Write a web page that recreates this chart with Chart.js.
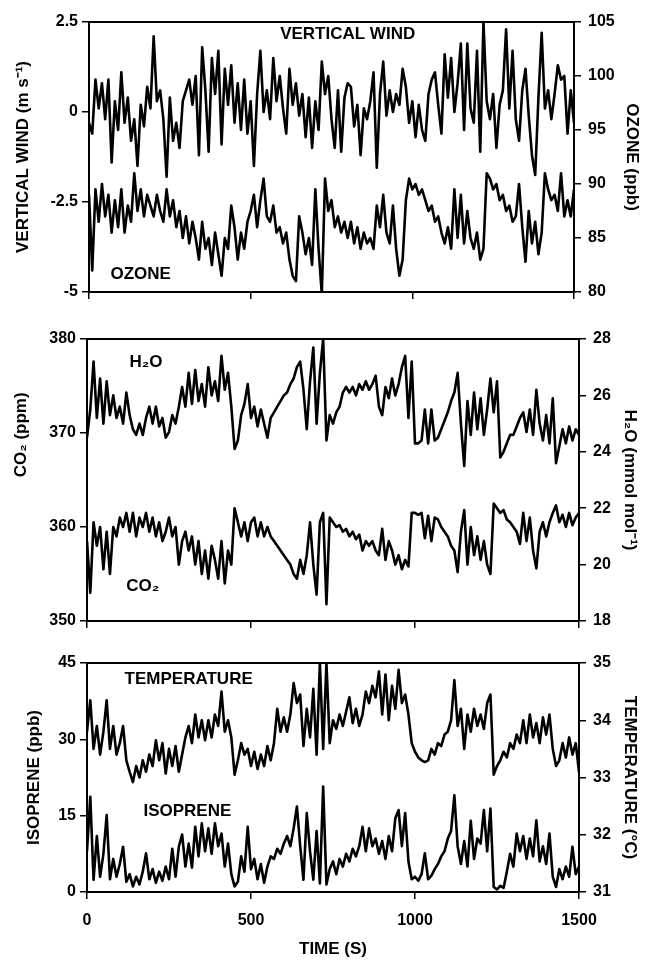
<!DOCTYPE html>
<html>
<head>
<meta charset="utf-8">
<script src="https://cdn.jsdelivr.net/npm/chart.js@4.4.1/dist/chart.umd.min.js"></script>
<style>
  body { margin: 0; background: #fff; }
  #wrap { position: relative; width: 648px; height: 962px; }
  #wrap canvas { position: absolute; left: 0; }
</style>
</head>
<body>
<div id="wrap">
  <canvas id="windChart" width="648" height="310" style="top:0px"></canvas>
  <canvas id="gasChart" width="648" height="330" style="top:310px"></canvas>
  <canvas id="tempChart" width="648" height="322" style="top:640px"></canvas>
</div>
<script>
// tick values for every axis
const timeTicks = [0, 500, 1000, 1500];
const windTicks = [-5, -2.5, 0, 2.5];
const ozoneTicks = [80, 85, 90, 95, 100, 105];
const co2Ticks = [350, 360, 370, 380];
const h2oTicks = [18, 20, 22, 24, 26, 28];
const isopreneTicks = [0, 15, 30, 45];
const tempTicks = [31, 32, 33, 34, 35];

// one value every 10 s (0 .. 1500 s)
const STEP = 10;

const wind = [
  -0.3, -0.6, 0.9, 0.1, 0.8, -0.2, 0.9, -1.4, 0.3, -0.5,
  1.1, -0.3, 0.4, -0.8, -0.2, -1.5, 0.2, -0.4, 0.7, 0.1,
  2.1, 0.3, 0.6, -0.2, -1.8, 0.4, -0.8, -0.3, -1.0, 0.3,
  0.6, 0.9, 0.2, 1.0, -1.2, 1.8, 0.6, -1.1, 1.5, 0.5,
  1.7, -0.9, 1.2, 0.2, 1.3, -0.3, 0.8, -0.5, 0.9, -0.6,
  0.3, -1.5, 0.5, 1.7, 0.0, 0.6, -0.2, 1.5, 0.3, 1.0,
  0.1, -0.6, 1.2, 0.2, 0.8, -0.1, 0.5, -0.7, 0.4, -1.0,
  0.3, -0.5, 1.4, 0.5, 1.0, -0.2, -1.0, 0.6, -1.1, 0.4,
  0.8, 0.7, -0.4, 0.2, -1.2, 0.1, -0.2, 0.3, 1.1, -1.55,
  0.5, 1.4, -0.1, 0.6, 0.0, 0.5, 0.2, 1.2, 0.7, -0.3,
  0.3, -0.7, 0.2, -0.5, -0.8, 0.5, 0.9, 1.1, 0.2, -0.6,
  1.6, 0.4, 1.5, 0.0, 0.8, 1.9, -0.5, 1.9, 0.1, -0.3,
  1.7, -1.1, 2.5, 0.3, -0.2, 0.5, -1.0, 0.2, 0.6, 2.3,
  0.1, 1.7, -0.2, -0.8, 0.6, 1.2, -0.1, -1.2, -1.75, 0.4,
  2.2, 0.1, 0.6, -0.2, 0.5, 1.3, 0.9, 1.0, -0.6, 0.6,
  -0.3
];

const ozone = [
  89.0, 82.0, 89.5, 86.5, 90.0, 87.0, 89.0, 85.5, 88.5, 86.0,
  89.5, 85.5, 88.0, 86.5, 91.0, 87.5, 89.5, 87.0, 89.0, 88.0,
  87.0, 89.0, 87.5, 86.5, 89.5, 87.0, 88.5, 86.0, 87.5, 85.0,
  87.0, 84.5, 86.5, 85.0, 83.0, 86.5, 84.0, 85.0, 82.5, 85.5,
  83.5, 81.5, 85.0, 84.0, 88.0, 86.0, 83.0, 85.5, 84.0, 86.5,
  87.5, 89.0, 86.0, 88.5, 90.5, 87.0, 86.5, 88.0, 85.5, 86.0,
  84.5, 85.5, 83.0, 81.5, 81.0, 87.0, 85.5, 83.5, 85.0, 82.5,
  89.5, 84.0, 79.8, 90.5, 87.5, 88.5, 86.0, 87.0, 85.5, 86.5,
  85.0, 86.5, 84.5, 86.0, 84.0, 85.5, 84.5, 85.0, 84.0, 88.0,
  86.0, 89.0, 85.5, 84.5, 88.0, 84.0, 81.5, 83.0, 88.5, 90.5,
  89.5, 90.0, 89.0, 89.5, 88.5, 87.5, 88.0, 86.5, 87.0, 85.5,
  84.5, 86.0, 84.0, 89.5, 85.0, 89.0, 84.5, 87.5, 85.0, 84.0,
  85.5, 83.0, 84.0, 91.0, 90.5, 89.5, 90.0, 88.5, 89.0, 87.5,
  88.0, 86.5, 87.0, 90.0, 86.0, 82.8, 87.5, 84.5, 86.5, 83.5,
  85.5, 91.0, 89.5, 88.5, 89.0, 87.5, 91.0, 87.0, 88.5, 87.0,
  89.5
];

const h2o = [
  24.5, 25.5, 27.2, 25.2, 26.6, 25.0, 26.5, 25.3, 26.0, 25.2,
  25.6, 25.0, 26.1, 25.3, 24.8, 24.6, 25.0, 24.6, 25.2, 25.6,
  25.0, 25.6, 24.9, 25.2, 24.5, 24.7, 25.3, 25.0, 25.6, 26.3,
  25.6, 26.8, 25.7, 26.9, 25.8, 26.4, 25.6, 27.0, 26.0, 26.5,
  25.8, 27.4, 26.2, 26.8, 25.6, 24.1, 24.4, 25.3, 25.7, 26.4,
  25.2, 25.6, 24.9, 25.5, 25.0, 24.5, 25.2, 25.4, 25.6, 25.8,
  26.0, 26.1, 26.4, 26.6, 27.0, 27.2, 26.2, 24.8, 26.5, 27.7,
  25.0, 26.8, 28.0, 24.4, 25.3, 25.0, 25.4, 25.6, 26.1, 26.3,
  26.1, 26.3, 26.0, 26.4, 26.2, 26.5, 26.2, 26.4, 26.7, 25.6,
  25.3, 26.3, 25.9, 26.6, 26.0, 26.4, 27.0, 27.4, 25.2, 27.2,
  24.3, 24.3, 24.4, 25.5, 24.3, 25.5, 24.4, 24.5, 24.8, 25.1,
  25.4, 25.8, 26.1, 26.8, 25.0, 23.5, 25.8, 24.6, 26.1, 24.8,
  25.9, 24.6, 25.5, 26.6, 25.4, 26.5, 23.8, 24.0, 24.3, 24.6,
  24.6, 24.9, 25.2, 25.4, 24.7, 25.5, 24.6, 26.2, 25.0, 24.4,
  25.3, 24.3, 25.9, 23.6, 24.2, 24.8, 24.3, 24.9, 24.4, 24.8,
  24.6
];

const co2 = [
  358.5, 353.0, 360.5, 358.0, 360.0, 355.5, 359.5, 355.0, 360.0, 359.0,
  361.0, 360.0, 361.5, 359.5, 361.5, 359.0, 361.0, 360.0, 361.5, 359.5,
  361.0, 359.0, 360.5, 358.5, 359.5, 361.0, 359.0, 360.0, 356.0, 358.5,
  359.5, 357.5, 359.0, 356.0, 358.5, 355.0, 357.5, 354.5, 358.0, 356.5,
  354.5, 358.5, 354.0, 357.5, 356.0, 362.0, 360.5, 359.0, 360.5, 358.5,
  360.5, 361.0, 359.0, 360.5, 359.0, 360.0, 359.0, 358.5, 358.0, 357.5,
  357.0, 356.5, 356.0, 355.0, 354.5, 356.5, 355.0, 357.0, 360.5, 356.0,
  352.8, 360.5, 361.5, 351.8, 361.0, 360.5, 360.0, 360.2, 359.5, 359.8,
  359.0, 359.5, 358.7, 359.2, 357.5, 358.5, 358.0, 358.5, 357.5, 357.0,
  359.8, 356.5, 358.5, 357.5, 356.0, 357.0, 355.5, 356.5, 355.8, 361.5,
  361.5, 361.3, 361.5, 358.8, 361.2, 358.5, 361.0, 360.8, 360.0, 359.5,
  359.0, 358.0, 357.5, 355.2, 359.5, 361.8, 356.0, 360.0, 357.0, 359.0,
  356.5, 358.5, 356.0, 355.0, 362.5, 362.0, 361.5, 361.8, 360.8, 360.5,
  360.0, 359.5, 358.2, 361.5, 358.5, 361.0, 357.5, 355.6, 359.5, 360.5,
  359.0, 360.5, 361.5, 362.3, 360.5, 361.3, 360.0, 361.5, 360.2, 361.0,
  361.5
];

const temperature = [
  33.8, 34.35, 33.5, 33.9, 33.4, 33.8, 34.35, 33.5, 33.9, 33.4,
  33.6, 33.9, 33.3, 33.1, 32.92, 33.2, 33.0, 33.3, 33.1, 33.4,
  33.2, 33.65, 33.3, 33.6, 33.07, 33.5, 33.2, 33.55, 33.1, 33.4,
  33.7, 33.9, 33.6, 34.1, 33.7, 34.0, 33.65, 34.0, 33.7, 34.1,
  33.9, 34.5, 33.8, 34.0, 33.7, 33.05, 33.3, 33.6, 33.4, 33.5,
  33.2, 33.45, 33.15, 33.4, 33.2, 33.55, 33.3, 33.6, 34.2, 33.8,
  34.05, 33.8, 34.1, 34.65, 34.3, 34.45, 33.55, 34.2, 33.7, 34.55,
  33.4, 35.0, 33.5, 35.0, 33.6, 34.0, 33.85, 34.1, 33.9, 34.15,
  34.4, 33.95, 34.2, 33.9, 34.1, 34.5, 34.3, 34.6, 34.4, 34.85,
  34.1, 34.8, 34.0, 34.6, 34.2, 34.88, 34.3, 34.45, 34.1, 33.6,
  33.45, 33.35, 33.3, 33.27, 33.3, 33.5, 33.4, 33.6, 33.55, 33.75,
  33.8, 34.0, 34.7, 33.9, 34.2, 33.5, 34.1, 33.8, 34.2, 33.9,
  34.1, 33.85, 34.3, 34.45, 33.05, 33.2, 33.3, 33.45, 33.35, 33.6,
  33.5, 33.75, 33.6, 34.0, 33.6, 34.1, 33.7, 33.95, 33.6, 34.05,
  33.75, 34.1, 33.5, 33.2, 33.3, 33.6, 33.35, 33.7, 33.4, 33.6,
  33.1
];

const isoprene = [
  8.0, 18.7, 2.4, 11.0, 3.0, 7.5, 15.1, 2.5, 6.5, 3.0,
  5.5, 8.9, 2.0, 3.5, 1.1, 3.0, 1.5, 4.0, 7.6, 2.5,
  4.5, 1.8, 4.0, 2.2, 5.0, 2.5, 8.5, 3.0, 8.9, 11.3,
  5.0, 9.5, 4.8, 12.8, 7.0, 13.5, 8.0, 12.5, 7.5, 13.5,
  9.0, 11.5, 5.0, 9.5, 3.5, 1.1, 2.0, 7.0, 4.0, 12.8,
  4.5, 6.5, 2.5, 5.5, 1.8, 5.0, 7.0, 6.5, 8.5, 7.5,
  9.5, 11.0, 9.0, 12.5, 16.8, 9.0, 2.4, 15.5, 8.0, 2.4,
  12.0, 1.7, 20.7, 1.5, 4.5, 6.0, 3.5, 6.5, 5.0, 7.5,
  6.0, 8.5, 7.0, 9.0, 12.8, 8.0, 12.5, 9.0, 10.5, 7.5,
  10.0, 6.5, 11.0, 8.0, 14.5, 16.1, 9.0, 15.5, 6.0, 2.5,
  3.0, 2.2, 3.5, 7.6, 2.5, 3.2, 4.5, 5.5, 7.0, 8.0,
  10.5, 12.0, 19.0, 9.0, 5.5, 10.0, 5.0, 14.0, 6.5, 10.5,
  9.5, 16.1, 8.0, 16.4, 1.0, 0.5, 1.2, 0.8, 4.0, 7.5,
  5.0, 11.5, 8.0, 11.0, 6.5, 10.5, 7.0, 14.1, 6.0, 9.0,
  5.5, 11.5, 3.0, 1.0, 4.5, 2.5, 5.0, 3.0, 8.9, 3.5,
  5.0
];

const FONT = '"Liberation Sans", Arial, Helvetica, sans-serif';
const INK = '#000';

const asPoints = arr => arr.map((v, i) => ({x: i * STEP, y: v}));

function series(values, axisId) {
  return {
    type: 'line',
    data: asPoints(values),
    yAxisID: axisId,
    borderColor: INK,
    borderWidth: 2.6,
    borderJoinStyle: 'round',
    pointRadius: 0,
    tension: 0,
    fill: false
  };
}

function yAxis(side, min, max, ticks, width, title, titlePad) {
  return {
    type: 'linear',
    position: side,
    min: min,
    max: max,
    afterBuildTicks: axis => { axis.ticks = ticks.map(v => ({value: v})); },
    afterFit: axis => { axis.width = width; },
    grid: {display: true, drawOnChartArea: false, drawTicks: true, tickLength: 7, color: INK, lineWidth: 1.5},
    border: {display: true, color: INK, width: 2},
    ticks: {
      color: INK,
      padding: side === 'left' ? 4 : 7,
      font: {family: FONT, size: 16, weight: 'bold'},
      callback: v => String(v)
    },
    title: {
      display: !!title,
      text: title || '',
      color: INK,
      padding: {top: titlePad || 0, bottom: 0},
      font: {family: FONT, size: 17, weight: 'bold'}
    }
  };
}

function timeAxis(height, showLabels) {
  return {
    type: 'linear',
    position: 'bottom',
    min: 0,
    max: 1500,
    afterBuildTicks: axis => { axis.ticks = timeTicks.map(v => ({value: v})); },
    afterFit: axis => { axis.height = height; },
    grid: {display: true, drawOnChartArea: false, drawTicks: true, tickLength: 7, color: INK, lineWidth: 1.5},
    border: {display: true, color: INK, width: 2},
    ticks: {
      display: showLabels,
      color: INK,
      padding: 12,
      maxRotation: 0,
      autoSkip: false,
      font: {family: FONT, size: 16, weight: 'bold'},
      callback: v => String(v)
    },
    title: {
      display: showLabels,
      text: 'TIME (S)',
      color: INK,
      padding: {top: 0, bottom: 2},
      font: {family: FONT, size: 17, weight: 'bold'}
    }
  };
}

// top edge of the box
const frameTop = {
  type: 'linear',
  position: 'top',
  min: 0,
  max: 1500,
  afterFit: axis => { axis.height = 0; },
  ticks: {display: false},
  grid: {display: true, drawOnChartArea: false, drawTicks: false, color: INK},
  border: {display: true, color: INK, width: 2}
};

// text written inside the plots, placed on the plot's own scales
function textLabels(items) {
  return {
    id: 'textLabels',
    afterDraw(chart) {
      const ctx = chart.ctx;
      ctx.save();
      ctx.fillStyle = INK;
      ctx.textAlign = 'center';
      ctx.textBaseline = 'middle';
      items.forEach(item => {
        ctx.font = 'bold 17px ' + FONT;
        const x = item.px !== undefined ? item.px : chart.scales.x.getPixelForValue(item.t);
        const y = chart.scales[item.axis].getPixelForValue(item.v);
        if (item.rotate) {
          ctx.save();
          ctx.translate(x, y);
          ctx.rotate(-Math.PI / 2);
          ctx.fillText(item.text, 0, 0);
          ctx.restore();
        } else {
          ctx.fillText(item.text, x, y);
        }
      });
      ctx.restore();
    }
  };
}

function baseOptions(padTop, scales) {
  return {
    responsive: false,
    animation: false,
    devicePixelRatio: 1,
    layout: {padding: {top: padTop, left: 0, right: 0, bottom: 0}},
    plugins: {legend: {display: false}, tooltip: {enabled: false}},
    scales: scales
  };
}

// panel 1: vertical wind and ozone
const windChart = new Chart(document.getElementById('windChart'), {
  type: 'line',
  data: {datasets: [series(wind, 'yL'), series(ozone, 'yR')]},
  options: baseOptions(22, {
    x: timeAxis(18, false),
    xTop: frameTop,
    yL: yAxis('left', -5, 2.5, windTicks, 89, 'VERTICAL WIND (m s\u207B\u00B9)', 13),
    yR: yAxis('right', 80, 105, ozoneTicks, 74, 'OZONE (ppb)', 6)
  }),
  plugins: [textLabels([
    {text: 'VERTICAL WIND', t: 800, axis: 'yL', v: 2.17},
    {text: 'OZONE', t: 160, axis: 'yL', v: -4.5}
  ])]
});

// panel 2: CO2 and H2O
const gasChart = new Chart(document.getElementById('gasChart'), {
  type: 'line',
  data: {datasets: [series(co2, 'yL'), series(h2o, 'yR')]},
  options: baseOptions(29, {
    x: timeAxis(19, false),
    xTop: frameTop,
    yL: yAxis('left', 350, 380, co2Ticks, 87, '', 0),
    yR: yAxis('right', 18, 28, h2oTicks, 69, 'H\u2082O (mmol mol\u207B\u00B9)', 8)
  }),
  plugins: [textLabels([
    {text: 'H\u2082O', t: 180, axis: 'yL', v: 377.5},
    {text: 'CO\u2082', t: 170, axis: 'yL', v: 353.7},
    {text: 'CO\u2082 (ppm)', px: 21, axis: 'yL', v: 369.8, rotate: true}
  ])]
});

// panel 3: isoprene and temperature
const tempChart = new Chart(document.getElementById('tempChart'), {
  type: 'line',
  data: {datasets: [series(isoprene, 'yL'), series(temperature, 'yR')]},
  options: baseOptions(23, {
    x: timeAxis(70, true),
    xTop: frameTop,
    yL: yAxis('left', 0, 45, isopreneTicks, 87, 'ISOPRENE (ppb)', 24),
    yR: yAxis('right', 31, 35, tempTicks, 69, 'TEMPERATURE (\u00B0C)', 8)
  }),
  plugins: [textLabels([
    {text: 'TEMPERATURE', t: 310, axis: 'yL', v: 41.8},
    {text: 'ISOPRENE', t: 306, axis: 'yL', v: 15.9}
  ])]
});
</script>
</body>
</html>
